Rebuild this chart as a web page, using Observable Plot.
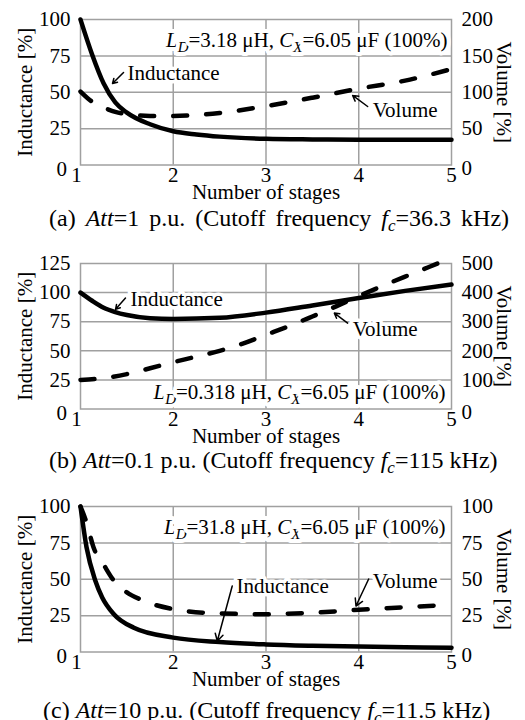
<!DOCTYPE html>
<html><head><meta charset="utf-8">
<script src="https://cdn.jsdelivr.net/npm/d3@7"></script>
<script src="https://cdn.jsdelivr.net/npm/@observablehq/plot@0.6"></script>
<style>
body{margin:0;background:#fff;}
#root{position:relative;width:525px;height:720px;overflow:hidden;font-family:"Liberation Serif","Times New Roman",serif;color:#000;}
#root svg, #root svg text{font-family:"Liberation Serif","Times New Roman",serif !important;}
.panel{position:absolute;left:0;}
.cap{position:absolute;font-size:24px;line-height:24px;white-space:nowrap;}
.cap sub{font-size:17px;line-height:0;vertical-align:-5px;}
</style></head><body><div id="root"></div><script>
const stageTicks = [1, 2, 3, 4, 5];

// (a) Att = 1 p.u.
const aLeftTicks = [0, 25, 50, 75, 100];
const aRightTicks = [0, 50, 100, 150, 200];
const aIndStages = [1, 1.125, 1.25, 1.375, 1.5, 1.75, 2, 2.25, 2.5, 3, 3.5, 4, 4.5, 5];
const aInductance = [100, 76, 56, 43, 36, 28, 23.2, 21, 19.5, 18, 17.6, 17.4, 17.3, 17.3];
const aVolStages = [1, 1.125, 1.25, 1.375, 1.5, 1.75, 2, 2.5, 3, 3.5, 4, 4.5, 5];
const aVolume = [101, 87, 79, 73, 70, 67.5, 67.5, 71.5, 81, 92.5, 105, 116, 132];

// (b) Att = 0.1 p.u.
const bLeftTicks = [0, 25, 50, 75, 100, 125];
const bRightTicks = [0, 100, 200, 300, 400, 500];
const bIndStages = [1, 1.125, 1.25, 1.375, 1.5, 1.75, 2, 2.5, 3, 3.5, 4, 4.5, 5];
const bInductance = [100, 93, 87, 83.3, 80.8, 78, 77.3, 78.3, 82.8, 89, 95.3, 101.5, 107];
const bVolStages = [1, 1.25, 1.5, 1.75, 2, 2.25, 2.5, 2.75, 3, 3.25, 3.5, 3.75, 4, 4.25, 4.5, 4.75, 4.85];
const bVolume = [100, 106, 120, 140, 161, 180, 200, 225, 255, 285, 318, 352, 388, 422, 455, 487, 500];

// (c) Att = 10 p.u.
const cLeftTicks = [0, 25, 50, 75, 100];
const cRightTicks = [0, 25, 50, 75, 100];
const cIndStages = [1, 1.065, 1.16, 1.234, 1.36, 1.575, 2, 2.5, 3, 3.5, 4, 4.5, 5];
const cInductance = [100, 72, 49, 37.5, 26, 16.7, 9.9, 6.8, 5.2, 4.3, 3.7, 3.3, 3];
const cVolStages = [1, 1.065, 1.14, 1.25, 1.36, 1.5, 1.65, 2, 2.5, 3, 3.5, 4, 4.5, 5];
const cVolume = [100, 89, 72, 60, 49, 41, 36, 29.5, 26.5, 26, 27, 29, 30.8, 32.5];

// annotation callouts (label anchor and arrow in data units)
const aNotes = [
  {label: "Inductance", x: 1.507, y: 63.2, x1: 1.464, y1: 63.6, x2: 1.345, y2: 56.0},
  {label: "Volume", x: 4.15, y: 37.5, x1: 4.096, y1: 40.2, x2: 3.934, y2: 47.8}
];
const bNotes = [
  {label: "Inductance", x: 1.54, y: 94.2, x1: 1.485, y1: 95.3, x2: 1.378, y2: 85.6},
  {label: "Volume", x: 3.934, y: 68.1, x1: 3.88, y1: 73.8, x2: 3.737, y2: 82.4}
];
const cNotes = [
  {label: "Inductance", x: 2.683, y: 45.4, x1: 2.636, y1: 45.4, x2: 2.475, y2: 7.6},
  {label: "Volume", x: 4.15, y: 48.8, x1: 4.107, y1: 50.2, x2: 3.97, y2: 31.6}
];

const panels = [
  {top: 0, yMax: 100, factor: 2, leftTicks: aLeftTicks, rightTicks: aRightTicks,
   indStages: aIndStages, inductance: aInductance, volStages: aVolStages, volume: aVolume, notes: aNotes,
   ld: ["3.18 μH", "6.05 μF (100%)"], ldAnchor: "top-right", ldDx: -4, ldDy: 21,
   caption: '(a) <i>Att</i>=1 p.u. (Cutoff frequency <i>f<sub>c</sub></i>=36.3 kHz)', capTop: 206, capLeft: 49, capWord: 4},
  {top: 243.7, yMax: 125, factor: 4, leftTicks: bLeftTicks, rightTicks: bRightTicks,
   indStages: bIndStages, inductance: bInductance, volStages: bVolStages, volume: bVolume, notes: bNotes,
   ld: ["0.318 μH", "6.05 μF (100%)"], ldAnchor: "bottom-right", ldDx: -6, ldDy: -17,
   caption: '(b) <i>Att</i>=0.1 p.u. (Cutoff frequency <i>f<sub>c</sub></i>=115 kHz)', capTop: 447.5, capLeft: 49, capWord: 0},
  {top: 486.5, yMax: 100, factor: 1, leftTicks: cLeftTicks, rightTicks: cRightTicks,
   indStages: cIndStages, inductance: cInductance, volStages: cVolStages, volume: cVolume, notes: cNotes,
   ld: ["31.8 μH", "6.05 μF (100%)"], ldAnchor: "top-right", ldDx: -6, ldDy: 21,
   caption: '(c) <i>Att</i>=10 p.u. (Cutoff frequency <i>f<sub>c</sub></i>=11.5 kHz)', capTop: 698, capLeft: 43, capWord: 0}
];

const root = document.getElementById("root");
const FONT = '"Liberation Serif", "Times New Roman", serif';
const FS = 21;

for (const cfg of panels) {
  const f = cfg.factor;
  const ind = cfg.indStages.map((s, i) => ({s, v: cfg.inductance[i]}));
  const vol = cfg.volStages.map((s, i) => ({s, v: cfg.volume[i] / f}));
  const grid = {stroke: "#a0a0a0", strokeOpacity: 1, strokeWidth: 1.5};
  const leftMain = cfg.leftTicks.filter(t => t > 0);
  const rightMain = cfg.rightTicks.filter(t => t > 0).map(t => t / f);
  const ax = {tickSize: 0, fontSize: FS, label: null};
  const ldText = "LD=" + cfg.ld[0] + ", CX=" + cfg.ld[1];
  const halo = {stroke: "white", strokeWidth: 8, paintOrder: "stroke", fill: "black", fontSize: FS};

  const svg = Plot.plot({
    width: 525, height: 205, marginTop: 19, marginBottom: 40.5, marginLeft: 80, marginRight: 74,
    style: {fontFamily: FONT, fontSize: FS + "px", background: "white", color: "black", overflow: "visible"},
    x: {domain: [1, 5]},
    y: {domain: [0, cfg.yMax]},
    marks: [
      Plot.gridX(stageTicks.slice(1, -1), grid),
      Plot.gridY(leftMain.slice(0, -1), grid),
      Plot.frame({stroke: "#a0a0a0", strokeWidth: 1.5}),
      Plot.axisX(stageTicks.slice(1), {...ax, tickPadding: 2}),
      Plot.axisX(stageTicks.slice(0, 1), {...ax, tickPadding: 2, dx: -4}),
      Plot.axisY(leftMain, {...ax, anchor: "left", tickPadding: 10}),
      Plot.axisY([0], {...ax, anchor: "left", tickPadding: 10, dx: -3.5, dy: 4.5}),
      Plot.axisY(rightMain, {...ax, anchor: "right", tickPadding: 10, tickFormat: d => String(Math.round(d * f))}),
      Plot.axisY([0], {...ax, anchor: "right", tickPadding: 10, dy: 3}),
      Plot.text(["Number of stages"], {frameAnchor: "bottom", dy: 27, lineAnchor: "middle", fontSize: FS}),
      Plot.text(["Inductance [%]"], {frameAnchor: "left", rotate: -90, dx: -55, textAnchor: "middle", lineAnchor: "middle", fontSize: FS}),
      Plot.text(["Volume [%]"], {frameAnchor: "right", rotate: 90, dx: 52, textAnchor: "middle", lineAnchor: "middle", fontSize: FS}),
      Plot.text([ldText], {...halo, frameAnchor: cfg.ldAnchor, textAnchor: "end", lineAnchor: "middle", dx: cfg.ldDx, dy: cfg.ldDy}),
      Plot.text(cfg.notes, {...halo, strokeWidth: 7, x: "x", y: "y", text: "label", textAnchor: "start", lineAnchor: "middle"}),
      Plot.line(vol, {x: "s", y: "v", stroke: "black", strokeWidth: 4.5, strokeDasharray: "14,19", curve: "monotone-x"}),
      Plot.line(ind, {x: "s", y: "v", stroke: "black", strokeWidth: 4.5, curve: "monotone-x"}),
      Plot.arrow(cfg.notes, {x1: "x1", y1: "y1", x2: "x2", y2: "y2", stroke: "black", strokeWidth: 1.5, headLength: 8})
    ]
  });

  // italic symbols with subscripts in the parameter note
  svg.querySelectorAll("text").forEach(t => {
    if (t.textContent === ldText) {
      t.innerHTML =
        '<tspan font-style="italic">L</tspan><tspan font-style="italic" font-size="15" dy="5">D</tspan>' +
        '<tspan dy="-5">=' + cfg.ld[0] + ', </tspan>' +
        '<tspan font-style="italic">C</tspan><tspan font-style="italic" font-size="15" dy="5">X</tspan>' +
        '<tspan dy="-5">=' + cfg.ld[1] + '</tspan>';
    }
  });

  const wrap = document.createElement("div");
  wrap.className = "panel";
  wrap.style.top = cfg.top + "px";
  wrap.appendChild(svg);
  root.appendChild(wrap);

  const cap = document.createElement("div");
  cap.className = "cap";
  cap.style.top = cfg.capTop + "px";
  cap.style.left = cfg.capLeft + "px";
  cap.style.wordSpacing = cfg.capWord + "px";
  cap.innerHTML = cfg.caption;
  root.appendChild(cap);
}
</script></body></html>
